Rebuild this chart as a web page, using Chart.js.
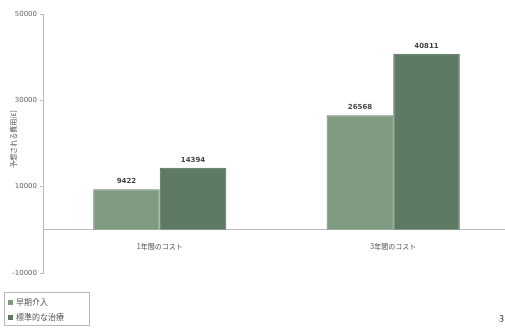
<!DOCTYPE html>
<html>
<head>
<meta charset="utf-8">
<script src="https://cdn.jsdelivr.net/npm/chart.js@4"></script>
<style>
  body { margin: 0; background: #fff; font-family: "Noto Sans CJK JP", sans-serif; overflow: hidden; }
  #wrap { position: relative; width: 505px; height: 329px; overflow: hidden; }
  #legend {
    position: absolute; left: 4px; top: 292px; width: 78px;
    border: 1px solid #b8b8b8; padding: 1px 3px; font-size: 8px; color: #555;
    line-height: 15px;
  }
  #legend span.box { display: inline-block; width: 5px; height: 5px; margin-right: 3px; }
  #pageno { position: absolute; left: 499px; top: 312px; font-size: 9px; color: #333; }
</style>
</head>
<body>
<div id="wrap">
  <canvas id="costChart"></canvas>
  <div id="legend"></div>
  <div id="pageno">3</div>
</div>
<script>
const categorias = ["1年間のコスト", "3年間のコスト"];
const etiquetasSerie = ["早期介入", "標準的な治療"];
const valoresTemprano = [9422, 26568];
const valoresEstandar = [14394, 40811];
const ticksEje = [-10000, 10000, 30000, 50000];
const tituloEje = "予想される費用(£)";

const colores = ["#809a80", "#5f7a63"];

const canvas = document.getElementById("costChart");
canvas.width = 510;
canvas.height = 329;
const ctx = canvas.getContext("2d");

// etiquetas de valor encima de cada barra
const valorPlugin = {
  id: "valores",
  afterDatasetsDraw(chart) {
    const c = chart.ctx;
    c.save();
    c.font = "bold 7px 'DejaVu Sans'";
    c.fillStyle = "#444";
    c.textAlign = "center";
    c.textBaseline = "bottom";
    chart.data.datasets.forEach((ds, i) => {
      chart.getDatasetMeta(i).data.forEach((bar, j) => {
        c.fillText(ds.data[j], bar.x, bar.y - 4);
      });
    });
    c.restore();
  }
};

// titulo vertical del eje y
const tituloPlugin = {
  id: "tituloY",
  afterDraw(chart) {
    const c = chart.ctx;
    c.save();
    c.translate(13, 139);
    c.rotate(-Math.PI / 2);
    c.font = "7px 'Noto Sans CJK JP'";
    c.fillStyle = "#555";
    c.textAlign = "center";
    c.textBaseline = "middle";
    c.fillText(tituloEje, 0, 0);
    c.restore();
  }
};

const chart = new Chart(ctx, {
  type: "bar",
  data: {
    labels: categorias,
    datasets: [
      { label: etiquetasSerie[0], data: valoresTemprano, backgroundColor: colores[0],
        borderColor: "#6f8a70", borderWidth: 1, categoryPercentage: 0.57, barPercentage: 1 },
      { label: etiquetasSerie[1], data: valoresEstandar, backgroundColor: colores[1],
        borderColor: "#50695a", borderWidth: 1, categoryPercentage: 0.57, barPercentage: 1 }
    ]
  },
  options: {
    responsive: false,
    animation: false,
    layout: { padding: { top: 14, bottom: 56, left: 0, right: 0 } },
    plugins: {
      legend: { display: false },
      tooltip: { enabled: false }
    },
    scales: {
      x: {
        position: { y: 0 },
        grid: { display: false },
        border: { color: "#bbb", width: 1 },
        ticks: { color: "#555", font: { size: 7, family: "Noto Sans CJK JP" }, padding: 4 }
      },
      y: {
        min: -10000,
        max: 50000,
        afterBuildTicks(scale) {
          scale.ticks = ticksEje.map(v => ({ value: v }));
        },
        afterFit(scale) {
          scale.width = 43;
        },
        grid: { drawOnChartArea: false, tickLength: 3, color: "#bbb" },
        border: { color: "#bbb", width: 1 },
        ticks: {
          color: "#666", font: { size: 7, family: "DejaVu Sans" }, padding: 3,
          callback: v => String(v)
        }
      }
    }
  },
  plugins: [valorPlugin, tituloPlugin]
});

const legendBox = document.getElementById("legend");
etiquetasSerie.forEach((nombre, i) => {
  const fila = document.createElement("div");
  const cuadro = document.createElement("span");
  cuadro.className = "box";
  cuadro.style.background = colores[i];
  fila.appendChild(cuadro);
  fila.appendChild(document.createTextNode(nombre));
  legendBox.appendChild(fila);
});
</script>
</body>
</html>
